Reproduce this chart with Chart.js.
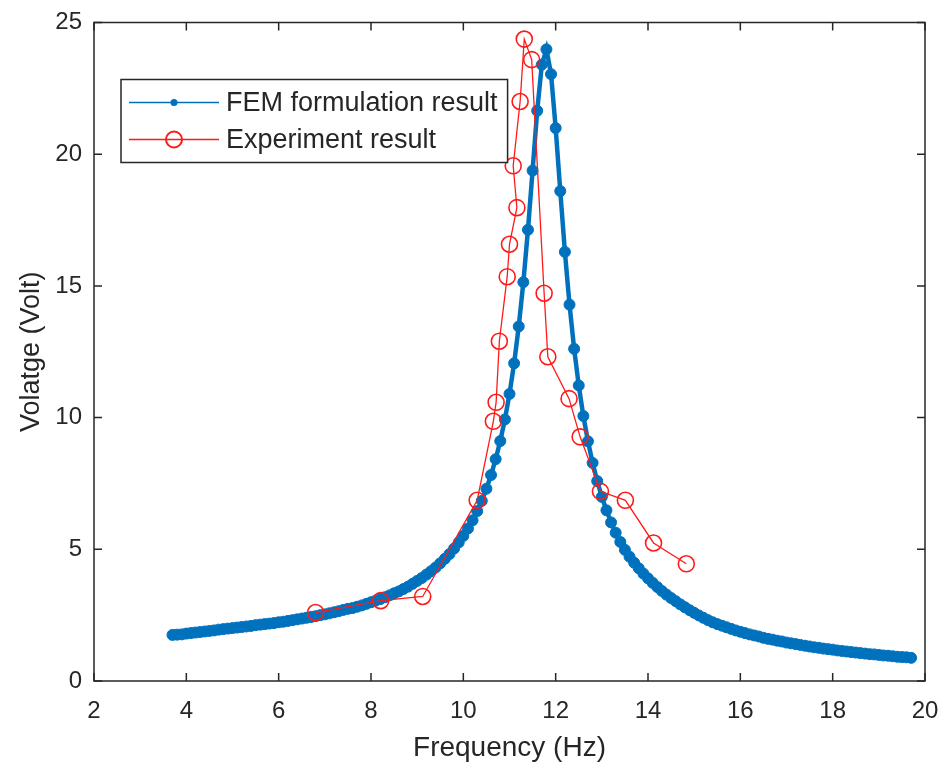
<!DOCTYPE html>
<html>
<head>
<meta charset="utf-8">
<script src="https://cdn.jsdelivr.net/npm/chart.js@4/dist/chart.umd.min.js"></script>
<style>
  body { margin: 0; background: #fff; }
  canvas { display: block; }
</style>
</head>
<body>
<canvas id="grafica" width="948" height="762"></canvas>
<script>
// FEM result (Hz, Volt)
const femFreq = [
  3.7, 3.8, 3.9, 4.0, 4.1, 4.2, 4.3, 4.4, 4.5, 4.6, 4.7, 4.8, 4.9,
  5.0, 5.1, 5.2, 5.3, 5.4, 5.5, 5.6, 5.7, 5.8, 5.9,
  6.0, 6.1, 6.2, 6.3, 6.4, 6.5, 6.6, 6.7, 6.8, 6.9,
  7.0, 7.1, 7.2, 7.3, 7.4, 7.5, 7.6, 7.7, 7.8, 7.9,
  8.0, 8.1, 8.2, 8.3, 8.4, 8.5, 8.6, 8.7, 8.8, 8.9,
  9.0, 9.1, 9.2, 9.3, 9.4, 9.5, 9.6, 9.7, 9.8, 9.9,
  10.0, 10.1, 10.2, 10.3, 10.4, 10.5, 10.6, 10.7, 10.8, 10.9,
  11.0, 11.1, 11.2, 11.3, 11.4, 11.5, 11.6, 11.7, 11.8, 11.9,
  12.0, 12.1, 12.2, 12.3, 12.4, 12.5, 12.6, 12.7, 12.8, 12.9,
  13.0, 13.1, 13.2, 13.3, 13.4, 13.5, 13.6, 13.7, 13.8, 13.9,
  14.0, 14.1, 14.2, 14.3, 14.4, 14.5, 14.6, 14.7, 14.8, 14.9,
  15.0, 15.1, 15.2, 15.3, 15.4, 15.5, 15.6, 15.7, 15.8, 15.9,
  16.0, 16.1, 16.2, 16.3, 16.4, 16.5, 16.6, 16.7, 16.8, 16.9,
  17.0, 17.1, 17.2, 17.3, 17.4, 17.5, 17.6, 17.7, 17.8, 17.9,
  18.0, 18.1, 18.2, 18.3, 18.4, 18.5, 18.6, 18.7, 18.8, 18.9,
  19.0, 19.1, 19.2, 19.3, 19.4, 19.5, 19.6, 19.7
];
const femVolt = [
  1.75, 1.76, 1.77, 1.80, 1.82, 1.84, 1.86, 1.88, 1.90, 1.92, 1.95, 1.97, 1.99,
  2.01, 2.03, 2.05, 2.07, 2.09, 2.12, 2.14, 2.16, 2.18, 2.20,
  2.23, 2.25, 2.28, 2.31, 2.34, 2.37, 2.40, 2.43, 2.46, 2.50,
  2.53, 2.57, 2.61, 2.65, 2.70, 2.74, 2.77, 2.82, 2.87, 2.93,
  2.99, 3.05, 3.11, 3.18, 3.25, 3.33, 3.40, 3.49, 3.58, 3.69,
  3.80, 3.91, 4.04, 4.17, 4.31, 4.47, 4.64, 4.82, 5.03, 5.26,
  5.51, 5.79, 6.10, 6.45, 6.84, 7.30, 7.82, 8.42, 9.11, 9.93,
  10.90, 12.06, 13.46, 15.14, 17.13, 19.38, 21.65, 23.40, 23.98, 23.04,
  20.99, 18.60, 16.29, 14.29, 12.61, 11.22, 10.06, 9.10, 8.28, 7.59,
  6.99, 6.48, 6.02, 5.63, 5.28, 4.98, 4.72, 4.49, 4.28, 4.08,
  3.90, 3.73, 3.57, 3.42, 3.28, 3.15, 3.03, 2.91, 2.80, 2.69,
  2.59, 2.49, 2.40, 2.31, 2.23, 2.16, 2.10, 2.04, 1.98, 1.92,
  1.87, 1.82, 1.77, 1.73, 1.69, 1.64, 1.60, 1.57, 1.53, 1.50,
  1.46, 1.43, 1.40, 1.37, 1.34, 1.31, 1.28, 1.26, 1.23, 1.21,
  1.19, 1.16, 1.14, 1.12, 1.10, 1.08, 1.06, 1.04, 1.02, 1.01,
  0.99, 0.97, 0.96, 0.94, 0.92, 0.91, 0.90, 0.88
];

// experiment (in the order the line joins them)
const expFreq = [6.80, 8.21, 9.12, 10.30, 10.65, 10.71, 10.78, 10.95, 11.00, 11.16, 11.08,
  11.23, 11.32, 11.48, 11.75, 11.83, 12.29, 12.53, 12.97, 13.51, 14.12, 14.83];
const expVolt = [2.60, 3.05, 3.21, 6.86, 9.86, 10.58, 12.90, 15.35, 16.58, 17.97, 19.56,
  22.00, 24.37, 23.59, 14.72, 12.31, 10.72, 9.27, 7.20, 6.86, 5.24, 4.45];

const xTicks = [2, 4, 6, 8, 10, 12, 14, 16, 18, 20];
const yTicks = [0, 5, 10, 15, 20, 25];
const labels = ["FEM formulation result", "Experiment result"];

const fuente = "'Liberation Sans', Arial, Helvetica, sans-serif";
const tinta = "#262626";
const azul = "#0072BD";
const rojo = "#FF1A1A";

const toPts = (xs, ys) => xs.map((v, i) => ({ x: v, y: ys[i] }));

// box, inward ticks and legend like matlab
const marco = {
  id: "marco",
  afterDatasetsDraw(chart) {
    const { ctx, chartArea: a, scales: { x, y } } = chart;
    ctx.save();
    ctx.strokeStyle = tinta;
    ctx.lineWidth = 1.5;
    ctx.strokeRect(a.left, a.top, a.right - a.left, a.bottom - a.top);

    ctx.beginPath();
    xTicks.forEach(v => {
      const px = x.getPixelForValue(v);
      ctx.moveTo(px, a.bottom); ctx.lineTo(px, a.bottom - 8);
      ctx.moveTo(px, a.top); ctx.lineTo(px, a.top + 8);
    });
    yTicks.forEach(v => {
      const py = y.getPixelForValue(v);
      ctx.moveTo(a.left, py); ctx.lineTo(a.left + 8, py);
      ctx.moveTo(a.right, py); ctx.lineTo(a.right - 8, py);
    });
    ctx.stroke();

    // leyenda
    ctx.font = "27px " + fuente;
    const w = Math.max(...labels.map(t => ctx.measureText(t).width));
    const bx = a.left + 27, by = a.top + 57;
    const bw = 105 + w + 10, bh = 83;
    ctx.fillStyle = "#fff";
    ctx.fillRect(bx, by, bw, bh);
    ctx.strokeRect(bx, by, bw, bh);

    const filas = [by + 23, by + 60];
    ctx.textBaseline = "middle";
    filas.forEach((fy, i) => {
      const col = i === 0 ? azul : rojo;
      ctx.strokeStyle = col;
      ctx.lineWidth = 1.5;
      ctx.beginPath();
      ctx.moveTo(bx + 8, fy); ctx.lineTo(bx + 98, fy);
      ctx.stroke();
      ctx.beginPath();
      if (i === 0) {
        ctx.fillStyle = col;
        ctx.arc(bx + 53, fy, 3.5, 0, Math.PI * 2);
        ctx.fill();
      } else {
        ctx.lineWidth = 2;
        ctx.arc(bx + 53, fy, 8, 0, Math.PI * 2);
        ctx.stroke();
      }
      ctx.fillStyle = tinta;
      ctx.fillText(labels[i], bx + 105, fy + 1);
    });
    ctx.restore();
  }
};

const ctx = document.getElementById("grafica").getContext("2d");
new Chart(ctx, {
  type: "line",
  data: {
    datasets: [
      {
        label: labels[0],
        data: toPts(femFreq, femVolt),
        borderColor: azul,
        backgroundColor: azul,
        borderWidth: 4.5,
        pointRadius: 5.5,
        pointBorderWidth: 1,
        pointBackgroundColor: azul,
        pointBorderColor: azul,
        tension: 0,
        order: 1
      },
      {
        label: labels[1],
        data: toPts(expFreq, expVolt),
        borderColor: rojo,
        backgroundColor: "transparent",
        borderWidth: 1.3,
        pointRadius: 8,
        pointBorderWidth: 1.6,
        pointBackgroundColor: "transparent",
        pointBorderColor: rojo,
        tension: 0,
        order: 0
      }
    ]
  },
  options: {
    responsive: false,
    animation: false,
    devicePixelRatio: 1,
    layout: { padding: { left: 0, right: 23, top: 22.5, bottom: 0 } },
    plugins: { legend: { display: false }, tooltip: { enabled: false } },
    scales: {
      x: {
        type: "linear",
        min: 2, max: 20,
        afterFit: s => { s.height = 81; s.paddingLeft = 0; s.paddingRight = 0; },
        afterBuildTicks: s => { s.ticks = xTicks.map(v => ({ value: v })); },
        grid: { display: false, drawTicks: false },
        border: { display: false },
        ticks: { color: tinta, font: { family: fuente, size: 24 }, padding: 16, maxRotation: 0 },
        title: { display: true, text: "Frequency (Hz)", color: tinta,
          font: { family: fuente, size: 28 }, padding: { top: 0, bottom: -3 } }
      },
      y: {
        type: "linear",
        min: 0, max: 25,
        afterFit: s => { s.width = 94; s.paddingTop = 0; s.paddingBottom = 0; },
        afterBuildTicks: s => { s.ticks = yTicks.map(v => ({ value: v })); },
        grid: { display: false, drawTicks: false },
        border: { display: false },
        ticks: { color: tinta, font: { family: fuente, size: 24 }, padding: 12 },
        title: { display: true, text: "Volatge (Volt)", color: tinta,
          font: { family: fuente, size: 27 }, padding: { top: 15, bottom: 0 } }
      }
    }
  },
  plugins: [marco]
});
</script>
</body>
</html>
